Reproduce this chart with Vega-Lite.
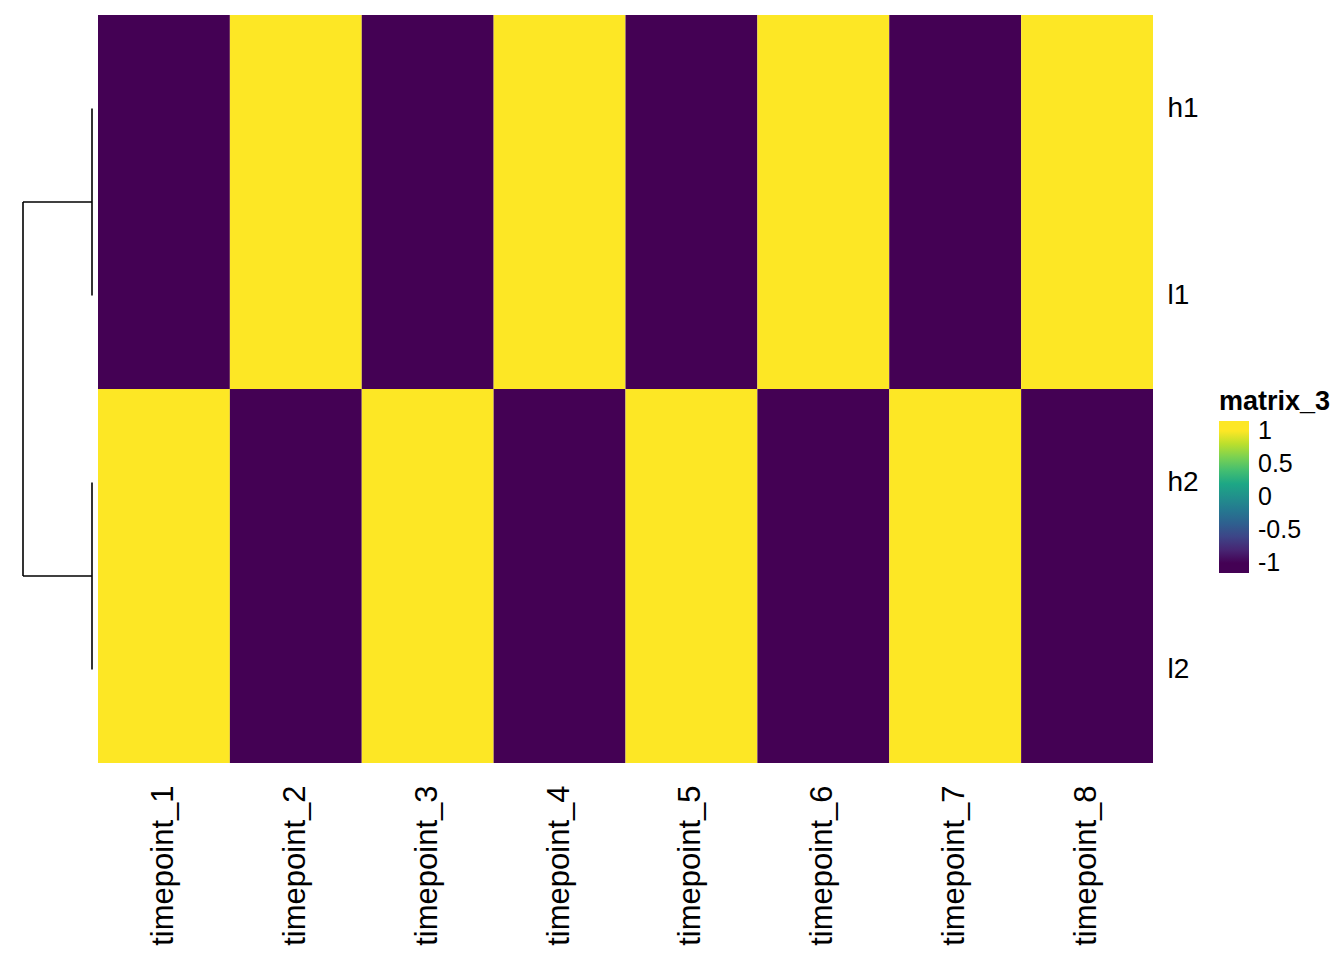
{
  "$schema": "https://vega.github.io/schema/vega-lite/v6.json",
  "background": "white",
  "padding": {"left": 22, "top": 15, "right": 10, "bottom": 5},
  "config": {
    "view": {"stroke": null},
    "font": "Liberation Sans",
    "concat": {"spacing": 5}
  },
  "datasets": {
    "cells": [
      {"row": "h1", "col": "timepoint_1", "value": -1},
      {"row": "h1", "col": "timepoint_2", "value": 1},
      {"row": "h1", "col": "timepoint_3", "value": -1},
      {"row": "h1", "col": "timepoint_4", "value": 1},
      {"row": "h1", "col": "timepoint_5", "value": -1},
      {"row": "h1", "col": "timepoint_6", "value": 1},
      {"row": "h1", "col": "timepoint_7", "value": -1},
      {"row": "h1", "col": "timepoint_8", "value": 1},
      {"row": "l1", "col": "timepoint_1", "value": -1},
      {"row": "l1", "col": "timepoint_2", "value": 1},
      {"row": "l1", "col": "timepoint_3", "value": -1},
      {"row": "l1", "col": "timepoint_4", "value": 1},
      {"row": "l1", "col": "timepoint_5", "value": -1},
      {"row": "l1", "col": "timepoint_6", "value": 1},
      {"row": "l1", "col": "timepoint_7", "value": -1},
      {"row": "l1", "col": "timepoint_8", "value": 1},
      {"row": "h2", "col": "timepoint_1", "value": 1},
      {"row": "h2", "col": "timepoint_2", "value": -1},
      {"row": "h2", "col": "timepoint_3", "value": 1},
      {"row": "h2", "col": "timepoint_4", "value": -1},
      {"row": "h2", "col": "timepoint_5", "value": 1},
      {"row": "h2", "col": "timepoint_6", "value": -1},
      {"row": "h2", "col": "timepoint_7", "value": 1},
      {"row": "h2", "col": "timepoint_8", "value": -1},
      {"row": "l2", "col": "timepoint_1", "value": 1},
      {"row": "l2", "col": "timepoint_2", "value": -1},
      {"row": "l2", "col": "timepoint_3", "value": 1},
      {"row": "l2", "col": "timepoint_4", "value": -1},
      {"row": "l2", "col": "timepoint_5", "value": 1},
      {"row": "l2", "col": "timepoint_6", "value": -1},
      {"row": "l2", "col": "timepoint_7", "value": 1},
      {"row": "l2", "col": "timepoint_8", "value": -1}
    ],
    "dendro": [
      {"h": 2, "h2": 2, "y": 1, "y2": 3},
      {"h": 2, "h2": 0, "y": 1, "y2": 1},
      {"h": 2, "h2": 0, "y": 3, "y2": 3},
      {"h": 0, "h2": 0, "y": 0.5, "y2": 1.5},
      {"h": 0, "h2": 0, "y": 2.5, "y2": 3.5}
    ]
  },
  "hconcat": [
    {
      "width": 69,
      "height": 748,
      "data": {"name": "dendro"},
      "mark": {"type": "rule", "color": "black", "strokeWidth": 1.6},
      "encoding": {
        "x": {"field": "h", "type": "quantitative", "axis": null,
              "scale": {"domain": [0, 2], "reverse": true, "nice": false, "zero": false}},
        "x2": {"field": "h2"},
        "y": {"field": "y", "type": "quantitative", "axis": null,
              "scale": {"domain": [0, 4], "reverse": true, "nice": false, "zero": false}},
        "y2": {"field": "y2"}
      }
    },
    {
      "width": 1055,
      "height": 748,
      "data": {"name": "cells"},
      "mark": {"type": "rect"},
      "encoding": {
        "x": {
          "field": "col", "type": "nominal",
          "sort": ["timepoint_1","timepoint_2","timepoint_3","timepoint_4","timepoint_5","timepoint_6","timepoint_7","timepoint_8"],
          "scale": {"paddingInner": 0, "paddingOuter": 0},
          "axis": {"orient": "bottom", "title": null, "labelAngle": -90, "ticks": false, "domain": false,
                   "labelPadding": 22, "labelFontSize": 31, "labelColor": "black"}
        },
        "y": {
          "field": "row", "type": "nominal",
          "sort": ["h1", "l1", "h2", "l2"],
          "scale": {"paddingInner": 0, "paddingOuter": 0},
          "axis": {"orient": "right", "title": null, "ticks": false, "domain": false,
                   "labelPadding": 14, "labelFontSize": 28, "labelColor": "black"}
        },
        "color": {
          "field": "value", "type": "quantitative",
          "scale": {
            "domain": [-1.15, -1, -0.75, -0.5, -0.25, 0, 0.25, 0.5, 0.75, 1, 1.15],
            "range": ["#440154", "#440154", "#472D7B", "#3B528B", "#2C728E", "#21908C", "#27AD81", "#5DC863", "#AADC32", "#FDE725", "#FDE725"]
          },
          "legend": {
            "title": "matrix_3",
            "titleFontSize": 27,
            "titleFontWeight": "bold",
            "titleColor": "black",
            "labelFontSize": 25,
            "labelColor": "black",
            "labelOffset": 9,
            "labelExpr": "'' + datum.value",
            "values": [-1, -0.5, 0, 0.5, 1],
            "gradientLength": 152,
            "gradientThickness": 30,
            "orient": "none",
            "legendX": 1196,
            "legendY": 374
          }
        }
      }
    }
  ]
}
